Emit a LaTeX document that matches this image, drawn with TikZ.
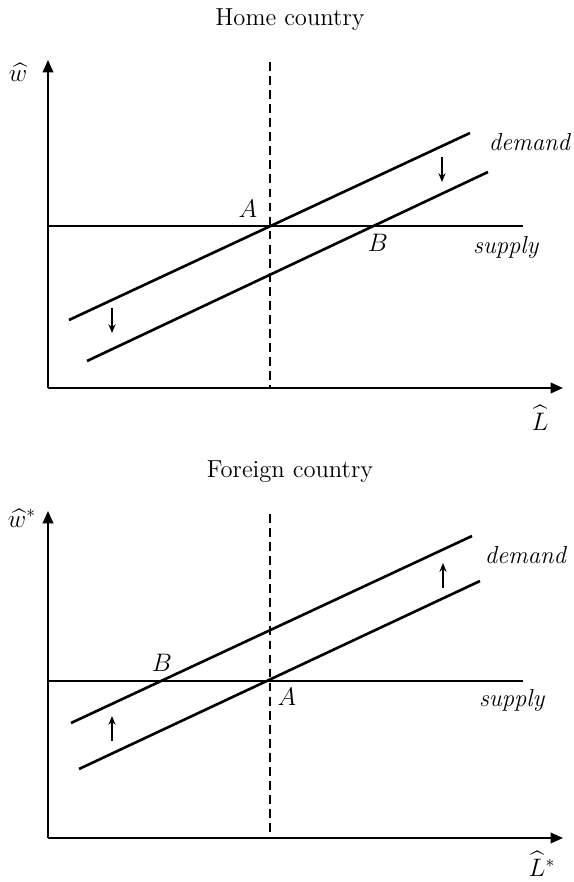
\documentclass[tikz,border=0pt]{standalone}
\usepackage{amsmath}
\usetikzlibrary{arrows.meta}

\begin{document}
\begin{tikzpicture}[x=0.02cm, y=-0.02cm,
  axis/.style={line width=1.1pt,-{Triangle[length=7pt,width=6pt]}},
  curve/.style={line width=1.5pt},
  guide/.style={line width=0.9pt,dash pattern=on 5pt off 3pt},
  shiftarrow/.style={line width=0.8pt,-{Stealth[length=5pt,width=4pt]}},
  lbl/.style={font=\fontsize{14}{16}\selectfont}]
  \useasboundingbox (0,0) rectangle (574,882);

  % home country
  \node[lbl] (homeT) at (290,20) {Home country};
  \coordinate (hO) at (48,388);
  \coordinate (hY) at (48,60);
  \coordinate (hX) at (563,388);
  \draw[axis] (hO) -- (hY);
  \draw[axis] (hO) -- (hX);
  \node[lbl] (hw) at (18,72) {$\widehat{w}$};
  \node[lbl] (hL) at (540,418) {$\widehat{L}$};
  \coordinate (hDt) at (270,62);
  \coordinate (hDb) at (270,388);
  \draw[guide] (hDt) -- (hDb);
  \coordinate (hS0) at (48,226);
  \coordinate (hS1) at (523,226);
  \draw[curve] (hS0) -- (hS1);
  \coordinate (hU0) at (69,320);
  \coordinate (hU1) at (470,133);
  \draw[curve] (hU0) -- (hU1);
  \coordinate (hN0) at (87,361);
  \coordinate (hN1) at (488,172);
  \draw[curve] (hN0) -- (hN1);
  \node[lbl] (hA) at (248,209) {$A$};
  \node[lbl] (hB) at (378,243) {$B$};
  \node[lbl] (hdem) at (530,142) {\textit{demand}};
  \node[lbl] (hsup) at (506,247) {\textit{supply}};
  \coordinate (ha0) at (442,157);
  \coordinate (ha1) at (442,182);
  \draw[shiftarrow] (ha0) -- (ha1);
  \coordinate (hb0) at (112,308);
  \coordinate (hb1) at (112,333);
  \draw[shiftarrow] (hb0) -- (hb1);

  % foreign country
  \node[lbl] (forT) at (290,472) {Foreign country};
  \coordinate (fO) at (48,838);
  \coordinate (fY) at (48,511);
  \coordinate (fX) at (563,838);
  \draw[axis] (fO) -- (fY);
  \draw[axis] (fO) -- (fX);
  \node[lbl] (fw) at (22,518) {$\widehat{w}^*$};
  \node[lbl] (fL) at (542,864) {$\widehat{L}^*$};
  \coordinate (fDt) at (270,514);
  \coordinate (fDb) at (270,838);
  \draw[guide] (fDt) -- (fDb);
  \coordinate (fS0) at (48,681);
  \coordinate (fS1) at (523,681);
  \draw[curve] (fS0) -- (fS1);
  \coordinate (fU0) at (71,723);
  \coordinate (fU1) at (472,536);
  \draw[curve] (fU0) -- (fU1);
  \coordinate (fN0) at (79,769);
  \coordinate (fN1) at (480,581);
  \draw[curve] (fN0) -- (fN1);
  \node[lbl] (fB) at (162,663) {$B$};
  \node[lbl] (fA) at (287,697) {$A$};
  \node[lbl] (fdem) at (526,555) {\textit{demand}};
  \node[lbl] (fsup) at (512,700) {\textit{supply}};
  \coordinate (fa0) at (443,588);
  \coordinate (fa1) at (443,563);
  \draw[shiftarrow] (fa0) -- (fa1);
  \coordinate (fb0) at (112,741);
  \coordinate (fb1) at (112,716);
  \draw[shiftarrow] (fb0) -- (fb1);
\end{tikzpicture}
\end{document}
